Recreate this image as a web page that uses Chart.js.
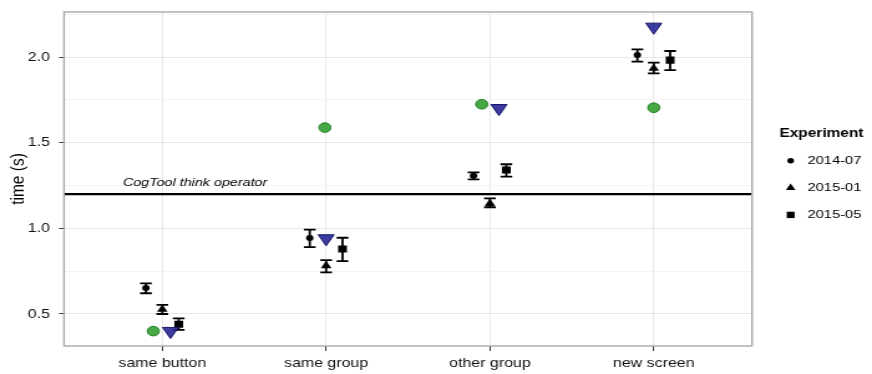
<!DOCTYPE html>
<html>
<head>
<meta charset="utf-8">
<script src="https://cdn.jsdelivr.net/npm/chart.js@4/dist/chart.umd.min.js"></script>
<style>
  html, body { margin: 0; padding: 0; background: #fff; }
  #wrap { width: 872px; height: 374px; overflow: hidden; }
  /* the drawing surface is rendered narrower and widened to fill the page */
  #c { display: block; width: 872px; height: 374px; }
</style>
</head>
<body>
<div id="wrap"><canvas id="c" width="700" height="374" style="width:872px;height:374px"></canvas></div>
<script>
// Interaction categories on the x axis
const categories = ['same button', 'same group', 'other group', 'new screen'];
const experiments = ['2014-07', '2015-01', '2015-05'];

// Measured mean times (s) with error-bar bounds, per experiment
const mean2014_07 = [0.652, 0.944, 1.307, 2.012];
const low2014_07  = [0.621, 0.890, 1.286, 1.973];
const high2014_07 = [0.679, 0.993, 1.327, 2.045];

const mean2015_01 = [0.527, 0.782, 1.145, 1.934];
const low2015_01  = [0.500, 0.743, 1.123, 1.905];
const high2015_01 = [0.553, 0.815, 1.175, 1.967];

const mean2015_05 = [0.440, 0.879, 1.341, 1.982];
const low2015_05  = [0.407, 0.809, 1.302, 1.924];
const high2015_05 = [0.475, 0.945, 1.374, 2.035];

// Model estimates (s)
const modelGreen = [0.400, 1.588, 1.724, 1.704];
const modelBlue  = [0.400, 0.941, 1.701, 2.176];

// Horizontal placement within each category
const dodge = [-0.1, 0, 0.1];
const greenJitter = [-0.055, -0.008, -0.05, 0];
const blueJitter  = [0.05, 0.0, 0.055, 0];

// CogTool think operator duration (s)
const thinkOperator = 1.2;

// Y axis ticks
const yMajorTicks = [0.5, 1.0, 1.5, 2.0];
const yMinorTicks = [0.75, 1.25, 1.75, 2.25];

const FONT = '"Liberation Sans", Arial, Helvetica, sans-serif';

function pts(values, offsets) {
  return values.map((v, i) => ({ x: i + 1 + (Array.isArray(offsets) ? offsets[i] : offsets), y: v }));
}

const experimentStyles = [
  { pointStyle: 'circle', radius: 3 },
  { pointStyle: 'triangle', radius: 4.9 },
  { pointStyle: 'rect', radius: 5 }
];

const measured = [
  [mean2014_07, low2014_07, high2014_07],
  [mean2015_01, low2015_01, high2015_01],
  [mean2015_05, low2015_05, high2015_05]
];

const datasets = measured.map((m, k) => ({
  label: experiments[k],
  data: pts(m[0], dodge[k]),
  errLow: m[1],
  errHigh: m[2],
  pointStyle: experimentStyles[k].pointStyle,
  pointRadius: experimentStyles[k].radius,
  backgroundColor: '#000',
  borderColor: '#000',
  borderWidth: 0,
  order: 1
}));

datasets.push({
  label: 'model (green)',
  data: pts(modelGreen, greenJitter),
  pointStyle: 'circle',
  pointRadius: 4.8,
  backgroundColor: 'rgba(50,160,50,0.9)',
  borderColor: 'rgba(30,125,30,1)',
  borderWidth: 1,
  order: 0
});
datasets.push({
  label: 'model (blue)',
  data: pts(modelBlue, blueJitter),
  pointStyle: 'triangle',
  rotation: 180,
  pointRadius: 7.4,
  backgroundColor: 'rgba(38,38,150,0.9)',
  borderColor: 'rgba(25,25,105,1)',
  borderWidth: 1,
  order: 0
});

const panelPlugin = {
  id: 'panel',
  beforeDatasetsDraw(chart) {
    const { ctx, chartArea: a, scales: { x, y } } = chart;
    ctx.save();
    // think operator reference line
    const py = y.getPixelForValue(thinkOperator);
    ctx.strokeStyle = '#000';
    ctx.lineWidth = 2.2;
    ctx.beginPath();
    ctx.moveTo(a.left, py);
    ctx.lineTo(a.right, py);
    ctx.stroke();
    ctx.fillStyle = '#000';
    ctx.font = 'italic 11.5px ' + FONT;
    ctx.textAlign = 'center';
    ctx.textBaseline = 'alphabetic';
    ctx.fillText('CogTool think operator', x.getPixelForValue(1.2), py - 8.5);

    // error bars
    ctx.lineWidth = 1.8;
    ctx.strokeStyle = '#000';
    chart.data.datasets.forEach(ds => {
      if (!ds.errLow) return;
      ds.data.forEach((p, j) => {
        const px = x.getPixelForValue(p.x);
        const lo = y.getPixelForValue(ds.errLow[j]);
        const hi = y.getPixelForValue(ds.errHigh[j]);
        const w = 4.7;
        ctx.beginPath();
        ctx.moveTo(px, lo); ctx.lineTo(px, hi);
        ctx.moveTo(px - w, lo); ctx.lineTo(px + w, lo);
        ctx.moveTo(px - w, hi); ctx.lineTo(px + w, hi);
        ctx.stroke();
      });
    });
    ctx.restore();
  },
  afterDraw(chart) {
    const { ctx, chartArea: a } = chart;
    ctx.save();
    // panel border
    ctx.strokeStyle = '#a8a8a8';
    ctx.lineWidth = 1.4;
    ctx.strokeRect(a.left, a.top, a.right - a.left, a.bottom - a.top);

    // legend
    const lx = a.right + 22;
    ctx.fillStyle = '#000';
    ctx.font = 'bold 12.4px ' + FONT;
    ctx.textAlign = 'left';
    ctx.textBaseline = 'middle';
    ctx.fillText('Experiment', lx, 134);
    ctx.font = '11.8px ' + FONT;
    experiments.forEach((e, k) => {
      const yy = 160.7 + k * 27.1;
      ctx.fillStyle = '#000';
      ctx.strokeStyle = '#000';
      Chart.helpers.drawPoint(ctx, {
        pointStyle: experimentStyles[k].pointStyle,
        radius: experimentStyles[k].radius * 0.9,
        borderWidth: 0,
        rotation: 0
      }, lx + 9, yy);
      ctx.fillText(e, lx + 22.5, yy);
    });
    ctx.restore();
  }
};

const isMajor = v => yMajorTicks.some(t => Math.abs(t - v) < 1e-6);

new Chart(document.getElementById('c'), {
  type: 'scatter',
  data: { datasets },
  options: {
    responsive: false,
    devicePixelRatio: 1,
    animation: false,
    events: [],
    layout: { padding: { left: 0, right: 96.3, top: 12, bottom: 0 } },
    plugins: { legend: { display: false }, tooltip: { enabled: false } },
    scales: {
      x: {
        type: 'linear',
        min: 0.4,
        max: 4.6,
        afterBuildTicks: s => { s.ticks = categories.map((c, i) => ({ value: i + 1 })); },
        afterFit: s => { s.height = 28; s.paddingLeft = 0; s.paddingRight = 0; },
        ticks: {
          callback: v => categories[Math.round(v) - 1] || '',
          autoSkip: false,
          maxRotation: 0,
          color: '#111',
          font: { size: 12.8, family: FONT },
          padding: 5
        },
        grid: { color: '#e8e8e8', lineWidth: 1, tickColor: '#333', tickLength: 5 },
        border: { display: false }
      },
      y: {
        type: 'linear',
        min: 0.3132,
        max: 2.2627,
        afterBuildTicks: s => {
          s.ticks = [...yMajorTicks, ...yMinorTicks].sort((a, b) => a - b).map(v => ({ value: v }));
        },
        afterFit: s => { s.width = 51.4; s.paddingTop = 0; s.paddingBottom = 0; },
        ticks: {
          callback: v => isMajor(v) ? v.toFixed(1) : '',
          autoSkip: false,
          color: '#111',
          font: { size: 12.8, family: FONT },
          padding: 7.3
        },
        grid: {
          color: c => isMajor(c.tick.value) ? '#e8e8e8' : '#f4f4f4',
          tickColor: c => isMajor(c.tick.value) ? '#333' : 'rgba(0,0,0,0)',
          lineWidth: 1,
          tickLength: 4
        },
        border: { display: false },
        title: {
          display: true,
          text: 'time (s)',
          color: '#000',
          font: { size: 15.5, family: FONT },
          padding: { top: 5.2, bottom: 0 }
        }
      }
    }
  },
  plugins: [panelPlugin]
});
</script>
</body>
</html>
